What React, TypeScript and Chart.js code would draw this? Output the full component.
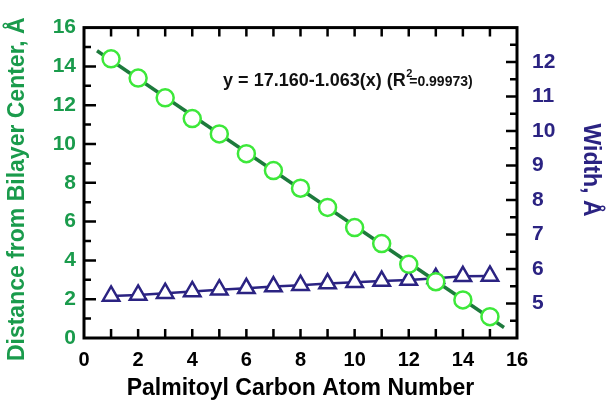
import React, { useEffect, useRef } from "react";
import { Chart, registerables } from "chart.js";

Chart.register(...registerables);

// ---- data ----
const carbonNumbers = [1, 2, 3, 4, 5, 6, 7, 8, 9, 10, 11, 12, 13, 14, 15];
const distanceFromCenter = [14.39, 13.4, 12.38, 11.31, 10.52, 9.5, 8.63, 7.72, 6.73, 5.69, 4.87, 3.8, 2.9, 1.96, 1.1];
const widthValues = [5.22, 5.25, 5.3, 5.35, 5.4, 5.44, 5.49, 5.53, 5.58, 5.62, 5.65, 5.68, 5.73, 5.79, 5.8];
const fitLineX = [0.48, 15.52];
const fitLineY = [14.81, 0.54];
const hiddenRightTicks = [4, 13];
const leftTitle = "Distance from Bilayer Center, Å";
const rightTitle = "Width, Å";
const xTitle = "Palmitoyl Carbon Atom Number";
const equationMain = "y = 17.160-1.063(x) (R";
const equationSup = "2";
const equationTail = "=0.99973)";

const FONT = "'Liberation Sans', Arial, Helvetica, sans-serif";
const GREEN_TEXT = "#1a9b4c";
const NAVY = "#2b2382";
const NBSP = "\u00A0";

const framePlugin = {
  id: "frameTicks",
  beforeDatasetsDraw(chart: any) {
    const { ctx, chartArea: a, scales } = chart;
    ctx.save();
    ctx.strokeStyle = "#000";
    ctx.lineCap = "butt";
    ctx.lineWidth = 2.5;
    ctx.beginPath();
    for (let v = 1; v < 16; v++) {
      const px = scales.x.getPixelForValue(v);
      ctx.moveTo(px, a.bottom);
      ctx.lineTo(px, a.bottom - 9);
      ctx.moveTo(px, a.top);
      ctx.lineTo(px, a.top + 9);
    }
    for (let v = 1; v < 16; v++) {
      const py = scales.y.getPixelForValue(v);
      const len = v % 2 === 0 ? 12 : 7;
      ctx.moveTo(a.left, py);
      ctx.lineTo(a.left + len, py);
    }
    for (let i = 9; i < 26; i++) {
      const v = i / 2;
      const py = scales.y2.getPixelForValue(v);
      const len = i % 2 === 0 ? 11 : 7;
      ctx.moveTo(a.right, py);
      ctx.lineTo(a.right - len, py);
    }
    ctx.stroke();
    ctx.lineWidth = 3;
    ctx.strokeRect(a.left, a.top, a.right - a.left, a.bottom - a.top);
    ctx.restore();
  },
};

const annotationPlugin = {
  id: "equation",
  afterDraw(chart: any) {
    const { ctx, scales } = chart;
    const x0 = scales.x.getPixelForValue(5.14);
    const yb = scales.y.getPixelForValue(12.99);
    ctx.save();
    ctx.fillStyle = "#111";
    ctx.textBaseline = "alphabetic";
    ctx.textAlign = "left";
    ctx.font = `bold 18px ${FONT}`;
    ctx.fillText(equationMain, x0, yb);
    let x = x0 + ctx.measureText(equationMain).width + 0.5;
    ctx.font = `bold 11px ${FONT}`;
    ctx.fillText(equationSup, x, yb - 9);
    ctx.font = `bold 14px ${FONT}`;
    ctx.fillText(equationTail, x + 3, yb);
    ctx.restore();
  },
};

export default function App() {
  const canvasRef = useRef<HTMLCanvasElement | null>(null);

  useEffect(() => {
    document.body.style.margin = "0";
    const canvas = canvasRef.current;
    if (!canvas) return;
    Chart.defaults.font.family = FONT;

    const chart = new Chart(canvas, {
      type: "scatter",
      data: {
        datasets: [
          {
            label: "Fit",
            data: fitLineX.map((x, i) => ({ x, y: fitLineY[i] })),
            showLine: true,
            borderColor: "#1d7a3c",
            borderWidth: 3.5,
            pointRadius: 0,
            yAxisID: "y",
            order: 3,
          },
          {
            label: "Distance",
            data: carbonNumbers.map((x, i) => ({ x, y: distanceFromCenter[i] })),
            showLine: false,
            pointStyle: "circle",
            pointRadius: 8.5,
            pointBorderWidth: 2.5,
            pointBorderColor: "#3de83a",
            pointBackgroundColor: "#ffffff",
            yAxisID: "y",
            order: 1,
          },
          {
            label: "Width",
            data: carbonNumbers.map((x, i) => ({ x, y: widthValues[i] })),
            showLine: true,
            borderColor: NAVY,
            borderWidth: 2.5,
            pointStyle: "triangle",
            pointRadius: 9.5,
            pointBorderWidth: 2.5,
            pointBorderColor: NAVY,
            pointBackgroundColor: "#ffffff",
            yAxisID: "y2",
            order: 2,
          },
        ],
      },
      options: {
        responsive: false,
        animation: false,
        devicePixelRatio: 1,
        layout: { padding: { top: 14, left: 0, right: 0, bottom: 0 } },
        plugins: {
          legend: { display: false },
          tooltip: { enabled: false },
        },
        scales: {
          x: {
            type: "linear",
            position: "bottom",
            min: 0,
            max: 16,
            grid: { display: false, drawTicks: false },
            border: { display: false },
            ticks: {
              stepSize: 2,
              color: "#000",
              padding: 10,
              font: { size: 20, weight: "bold" },
            },
            title: {
              display: true,
              text: xTitle,
              color: "#000",
              font: { size: 23, weight: "bold" },
              padding: { top: 0, bottom: 5 },
            },
            afterFit(s: any) {
              s.height = 69;
            },
          },
          y: {
            type: "linear",
            position: "left",
            min: 0,
            max: 16,
            grid: { display: false, drawTicks: false },
            border: { display: false },
            ticks: {
              stepSize: 2,
              color: GREEN_TEXT,
              padding: 8,
              font: { size: 21, weight: "bold" },
            },
            title: {
              display: true,
              text: leftTitle + NBSP + NBSP,
              color: GREEN_TEXT,
              font: { size: 23, weight: "bold" },
              padding: { top: 4, bottom: 0 },
            },
            afterFit(s: any) {
              s.width = 84;
            },
          },
          y2: {
            type: "linear",
            position: "right",
            min: 4,
            max: 13,
            grid: { display: false, drawTicks: false },
            border: { display: false },
            ticks: {
              stepSize: 1,
              color: NAVY,
              padding: 15,
              font: { size: 21, weight: "bold" },
              callback: (v: any) => (hiddenRightTicks.includes(Number(v)) ? "" : String(v)),
            },
            title: {
              display: true,
              text: rightTitle + NBSP + NBSP + NBSP + NBSP,
              color: NAVY,
              font: { size: 23, weight: "bold" },
              padding: { top: 7, bottom: 0 },
            },
            afterFit(s: any) {
              s.width = 94;
            },
          },
        },
      },
      plugins: [framePlugin, annotationPlugin],
    });

    return () => chart.destroy();
  }, []);

  return (
    <div style={{ width: 611, height: 407 }}>
      <canvas ref={canvasRef} width={611} height={407} />
    </div>
  );
}
